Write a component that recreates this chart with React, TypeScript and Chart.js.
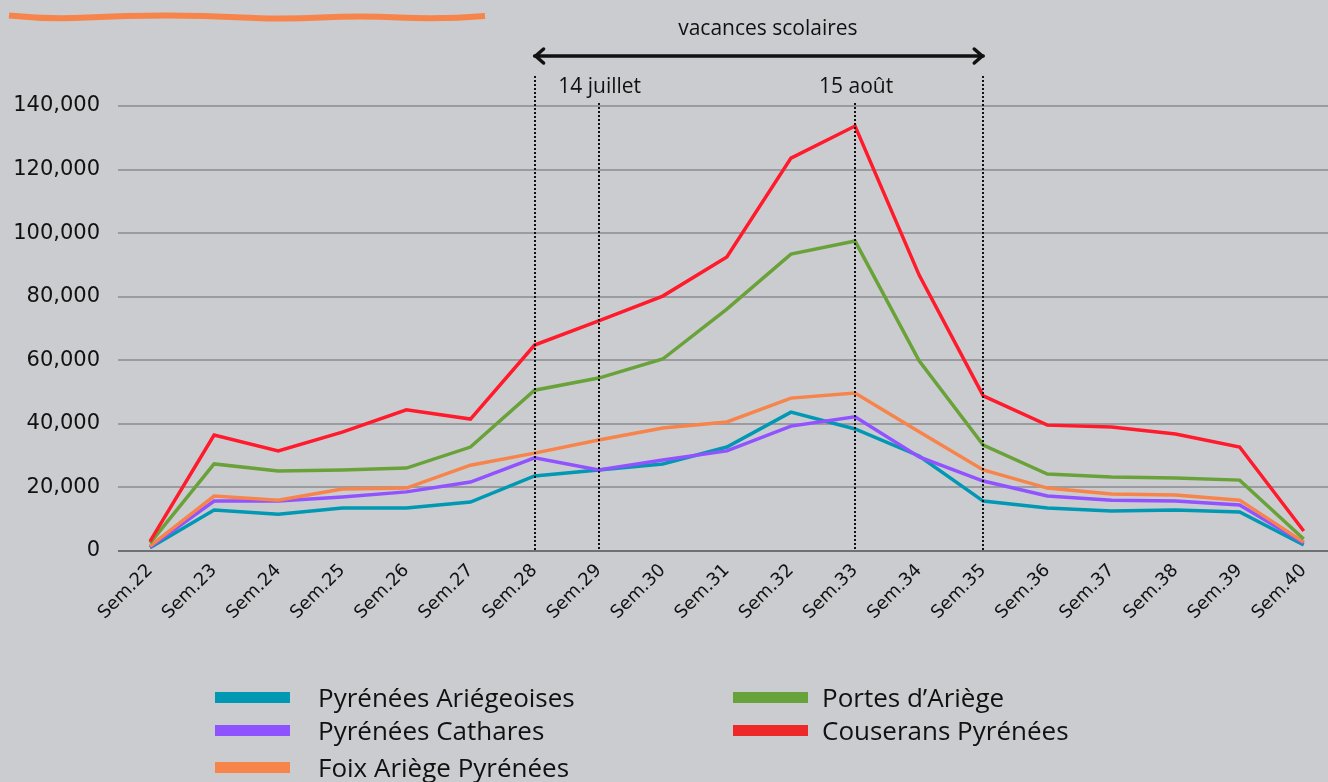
import React, { useEffect, useRef } from "react";
import { Chart, registerables } from "chart.js";

Chart.register(...registerables);

const categories = ["Sem.22","Sem.23","Sem.24","Sem.25","Sem.26","Sem.27","Sem.28","Sem.29","Sem.30","Sem.31","Sem.32","Sem.33","Sem.34","Sem.35","Sem.36","Sem.37","Sem.38","Sem.39","Sem.40"];

const pyreneesAriegeoises = [1000,12900,11600,13500,13500,15400,23600,25500,27400,32700,43700,38400,29900,15700,13500,12600,12900,12300,1900];
const pyreneesCathares = [1200,15700,15700,17000,18600,21700,29300,25500,28600,31500,39300,42200,29600,22000,17300,16000,15700,14500,2500];
const foixAriegePyrenees = [1500,17300,16000,19500,19800,27000,30800,34900,38700,40600,48100,49700,37500,25500,19800,17900,17600,16000,2800];
const portesAriege = [2500,27400,25200,25500,26100,32700,50600,54400,60400,76100,93400,97500,59800,33300,24200,23300,23000,22300,3800];
const couseransPyrenees = [3000,36500,31500,37400,44400,41500,64800,72400,80200,92500,123600,133700,86800,48800,39600,39000,36800,32700,6300];

const yTicks = [0, 20000, 40000, 60000, 80000, 100000, 120000, 140000];

const seriesNames = ["Pyrénées Ariégeoises","Pyrénées Cathares","Foix Ariège Pyrénées","Portes d’Ariège","Couserans Pyrénées"];
const seriesColors = ["#0098b2","#9152ff","#f7844a","#6aa23a","#ff1a2c"];
const legendColors = ["#0098b2","#8f52ff","#f7844a","#68a23a","#ee2828"];

const holidayStart = "Sem.28";
const holidayEnd = "Sem.35";
const julyWeek = "Sem.29";
const augustWeek = "Sem.33";

const BG = "#cbccd0";

const gridPlugin = {
  id: "extGrid",
  beforeDatasetsDraw(chart: any) {
    const { ctx, chartArea, scales } = chart;
    const y = scales.y;
    const x = scales.x;
    const halfStep = (x.getPixelForValue(1) - x.getPixelForValue(0)) / 2;
    ctx.save();
    yTicks.forEach((v) => {
      const py = Math.round(y.getPixelForValue(v));
      ctx.beginPath();
      ctx.lineWidth = 2;
      ctx.strokeStyle = v === 0 ? "#6f7073" : "#9b9ca0";
      ctx.moveTo(chartArea.left - halfStep, py);
      ctx.lineTo(chart.width, py);
      ctx.stroke();
    });
    ctx.restore();
  },
};

const annotationPlugin = {
  id: "holidays",
  afterDatasetsDraw(chart: any) {
    const { ctx, chartArea, scales } = chart;
    const x = scales.x;
    const bottom = scales.y.getPixelForValue(0);
    const top = chartArea.top;
    ctx.save();
    const xs = x.getPixelForValue(categories.indexOf(holidayStart));
    const xe = x.getPixelForValue(categories.indexOf(holidayEnd));
    const xj = x.getPixelForValue(categories.indexOf(julyWeek));
    const xa = x.getPixelForValue(categories.indexOf(augustWeek));
    ctx.strokeStyle = "#111";
    ctx.lineWidth = 2;
    ctx.setLineDash([2, 2]);
    const dotted = (px: number, y0: number) => {
      ctx.beginPath();
      ctx.moveTo(Math.round(px), y0);
      ctx.lineTo(Math.round(px), bottom);
      ctx.stroke();
    };
    dotted(xs, top - 30);
    dotted(xe, top - 30);
    dotted(xj, top - 3);
    dotted(xa, top - 3);
    ctx.setLineDash([]);
    const ay = top - 50;
    ctx.lineWidth = 3.5;
    ctx.lineCap = "round";
    ctx.lineJoin = "round";
    ctx.beginPath();
    ctx.moveTo(xs, ay);
    ctx.lineTo(xe, ay);
    ctx.stroke();
    ctx.beginPath();
    ctx.moveTo(xs + 9, ay - 7);
    ctx.lineTo(xs + 1, ay);
    ctx.lineTo(xs + 9, ay + 7);
    ctx.stroke();
    ctx.beginPath();
    ctx.moveTo(xe - 9, ay - 7);
    ctx.lineTo(xe - 1, ay);
    ctx.lineTo(xe - 9, ay + 7);
    ctx.stroke();
    ctx.fillStyle = "#111";
    ctx.font = "21px 'Open Sans'";
    ctx.textAlign = "center";
    ctx.textBaseline = "middle";
    ctx.fillText("vacances scolaires", (xs + xe) / 2 + 9, top - 77);
    ctx.fillText("14 juillet", xj + 1, top - 19);
    ctx.fillText("15 août", xa + 1, top - 19);
    ctx.restore();
  },
};

export default function App() {
  const ref = useRef<HTMLCanvasElement>(null);
  useEffect(() => {
    if (!ref.current) return;
    const dataSets = [pyreneesAriegeoises, pyreneesCathares, foixAriegePyrenees, portesAriege, couseransPyrenees];
    const chart = new Chart(ref.current, {
      type: "line",
      data: {
        labels: categories,
        datasets: dataSets.map((d, i) => ({
          label: seriesNames[i],
          data: d,
          borderColor: seriesColors[i],
          backgroundColor: seriesColors[i],
          borderWidth: 3.5,
          pointRadius: 0,
          tension: 0,
          order: 5 - i,
        })),
      },
      options: {
        animation: false,
        responsive: false,
        maintainAspectRatio: false,
        layout: { padding: { top: 106, right: 23, left: 0, bottom: 0 } },
        plugins: { legend: { display: false }, tooltip: { enabled: false } },
        scales: {
          x: {
            type: "category",
            offset: false,
            grid: { display: false, drawTicks: false },
            border: { display: false },
            ticks: {
              minRotation: 45,
              maxRotation: 45,
              padding: 9,
              color: "#111",
              font: { family: "DejaVu Sans", size: 18 },
            },
            afterFit: (s: any) => { s.height = 231; },
          },
          y: {
            min: 0,
            max: 140000,
            grid: { display: false, drawTicks: false },
            border: { display: false },
            afterBuildTicks: (s: any) => { s.ticks = yTicks.map((v) => ({ value: v })); },
            ticks: {
              padding: 50,
              color: "#111",
              font: { family: "DejaVu Sans", size: 21 },
              callback: (v: any) => Number(v).toLocaleString("en-US"),
            },
            afterFit: (s: any) => { s.width = 150; },
          },
        },
      },
      plugins: [gridPlugin, annotationPlugin],
    });
    return () => chart.destroy();
  }, []);

  const legendPos = [
    { left: 215, top: 697 },
    { left: 215, top: 730 },
    { left: 215, top: 767 },
    { left: 733, top: 697 },
    { left: 733, top: 730 },
  ];

  return (
    <div style={{ position: "fixed", left: 0, top: 0, width: 1328, height: 782, background: BG, overflow: "hidden" }}>
      <svg width={1328} height={40} style={{ position: "absolute", left: 0, top: 0 }}>
        <path
          d="M 9 15.5 Q 48 19.5 87 17.5 Q 126 15.5 165 15.5 Q 204 15.5 243 17.5 Q 282 19.5 321 17.5 Q 360 15.5 399 17.5 Q 442 19.5 485 16"
          stroke="#f7844a"
          strokeWidth={6}
          fill="none"
        />
      </svg>
      <canvas ref={ref} width={1328} height={782} style={{ position: "absolute", left: 0, top: 0 }} />
      {seriesNames.map((n, i) => (
        <div key={n} style={{ position: "absolute", left: legendPos[i].left, top: legendPos[i].top - 16, height: 32, display: "flex", alignItems: "center" }}>
          <div style={{ width: 75, height: 11, background: legendColors[i] }} />
          <div style={{ marginLeft: i < 3 ? 28 : 14, fontFamily: "'Open Sans'", fontSize: 26, color: "#111", whiteSpace: "nowrap" }}>{n}</div>
        </div>
      ))}
    </div>
  );
}
